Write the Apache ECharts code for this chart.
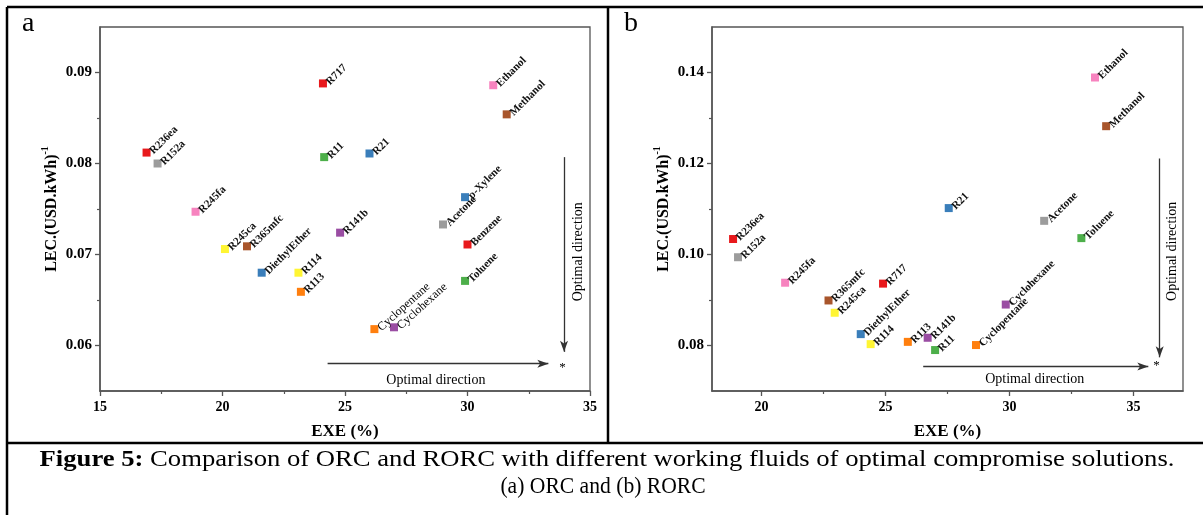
<!DOCTYPE html>
<html>
<head>
<meta charset="utf-8">
<script src="https://cdn.jsdelivr.net/npm/echarts@6/dist/echarts.min.js"></script>
<style>html,body{margin:0;padding:0;background:#fff}#c{width:1203px;height:515px}</style>
</head>
<body>
<div id="c"></div>
<script>
// ---- Data ----
// Panel a: ORC
const fluidsA = ['R236ea','R152a','R245fa','R245ca','R365mfc','DiethylEther','R114','R113','R141b','Cyclopentane','Cyclohexane','Acetone','Benzene','Toluene','p-Xylene','R717','R11','R21','Ethanol','Methanol'];
const exeA = [16.9, 17.35, 18.9, 20.1, 21.0, 21.6, 23.1, 23.2, 24.8, 26.2, 27.0, 29.0, 30.0, 29.9, 29.9, 24.1, 24.15, 26.0, 31.05, 31.6];
const lecA = [0.0812, 0.0800, 0.0747, 0.0706, 0.0709, 0.0680, 0.0680, 0.0659, 0.0724, 0.0618, 0.0620, 0.0733, 0.0711, 0.0671, 0.0763, 0.0888, 0.0807, 0.0811, 0.0886, 0.0854];
// Panel b: RORC
const fluidsB = ['R236ea','R152a','R245fa','R365mfc','R245ca','DiethylEther','R114','R717','R113','R141b','R11','Cyclopentane','Cyclohexane','R21','Acetone','Toluene','Ethanol','Methanol'];
const exeB = [18.85, 19.05, 20.95, 22.7, 22.95, 24.0, 24.4, 24.9, 25.9, 26.7, 27.0, 28.65, 29.85, 27.55, 31.4, 32.9, 33.45, 33.9];
const lecB = [0.1034, 0.0994, 0.0938, 0.0899, 0.0872, 0.0825, 0.0803, 0.0936, 0.0808, 0.0817, 0.0790, 0.0801, 0.0890, 0.1102, 0.1074, 0.1036, 0.1389, 0.1282];
// Tick labels
const xTicksA = [15, 20, 25, 30, 35];
const xMinorA = [17.5, 22.5, 27.5, 32.5];
const yTicksA = [0.06, 0.07, 0.08, 0.09];
const yMinorA = [0.065, 0.075, 0.085];
const xTicksB = [20, 25, 30, 35];
const xMinorB = [22.5, 27.5, 32.5];
const yTicksB = [0.08, 0.10, 0.12, 0.14];
const yMinorB = [0.09, 0.11, 0.13];

// ---- Styles ----
const colorOf = {
  'R236ea':'#E8191C','R152a':'#9C9C9C','R245fa':'#F783BF','R245ca':'#FFF533','R365mfc':'#A8552B',
  'DiethylEther':'#3A7EBA','R114':'#FFF533','R113':'#FF7F0E','R141b':'#9A4DA3','Cyclopentane':'#FF7F0E',
  'Cyclohexane':'#9A4DA3','Acetone':'#9C9C9C','Benzene':'#E8191C','Toluene':'#4DAF4A','p-Xylene':'#3A7EBA',
  'R717':'#E8191C','R11':'#4DAF4A','R21':'#3A7EBA','Ethanol':'#F783BF','Methanol':'#A8552B'
};
// label style overrides in panel a (these two labels are set in regular weight, slightly larger)
const labelOverrideA = {
  'Cyclopentane': { fontWeight:'normal', fontSize:12, rotate:42, color:'#000' },
  'Cyclohexane': { fontWeight:'normal', fontSize:12, rotate:42, color:'#000' }
};
const FF = '"Liberation Serif","Times New Roman",serif';
const axisCol = '#555';

function pts(names, xs, ys, overrides) {
  return names.map((n, i) => {
    const d = { name: n, value: [xs[i], ys[i]], itemStyle: { color: colorOf[n] } };
    if (overrides && overrides[n]) d.label = overrides[n];
    return d;
  });
}

function xAxes(gi, min, max, major, minor) {
  return [{
    type:'value', gridIndex: gi, min, max, position:'bottom',
    name:'EXE (%)', nameLocation:'middle', nameGap: 32,
    nameTextStyle:{ fontFamily: FF, fontWeight:'bold', fontSize:17, color:'#000' },
    axisLine:{ show:true, onZero:false, lineStyle:{ color: axisCol, width:1.5 } },
    axisTick:{ show:true, inside:false, length:5, customValues: major, lineStyle:{ color: axisCol, width:1.3 } },
    axisLabel:{ show:true, customValues: major, margin:9, fontFamily: FF, fontWeight:'bold', fontSize:14, color:'#000' },
    splitLine:{ show:false }
  },{
    type:'value', gridIndex: gi, min, max, position:'bottom', offset:0,
    axisLine:{ show:false, onZero:false },
    axisTick:{ show:true, inside:false, length:3, customValues: minor, lineStyle:{ color: axisCol, width:1.2 } },
    axisLabel:{ show:false }, splitLine:{ show:false }
  }];
}
function yAxes(gi, min, max, major, minor, gap) {
  return [{
    type:'value', gridIndex: gi, min, max, position:'left',
    name:'{m|LEC.(USD.kWh)}{s|-1}', nameLocation:'middle', nameGap: gap,
    nameTextStyle:{ fontFamily: FF, fontWeight:'bold', fontSize:16, color:'#000',
      rich:{ m:{ fontFamily: FF, fontWeight:'bold', fontSize:16, color:'#000', lineHeight:20, verticalAlign:'bottom' },
             s:{ fontFamily: FF, fontWeight:'bold', fontSize:10, color:'#000', lineHeight:20, verticalAlign:'top' } } },
    axisLine:{ show:true, onZero:false, lineStyle:{ color: axisCol, width:1.5 } },
    axisTick:{ show:true, inside:false, length:5, customValues: major, lineStyle:{ color: axisCol, width:1.3 } },
    axisLabel:{ show:true, customValues: major, margin:8, fontFamily: FF, fontWeight:'bold', fontSize:15, color:'#000',
      formatter: v => v.toFixed(2) },
    splitLine:{ show:false }
  },{
    type:'value', gridIndex: gi, min, max, position:'left', offset:0,
    axisLine:{ show:false, onZero:false },
    axisTick:{ show:true, inside:false, length:3, customValues: minor, lineStyle:{ color: axisCol, width:1.2 } },
    axisLabel:{ show:false }, splitLine:{ show:false }
  }];
}

function annot(hFrom, hTo, vFrom, vTo, star, hText, vText) {
  const ls = { color:'#333', width:1.3, type:'solid' };
  return {
    markLine: {
      silent:true, animation:false, symbol:['none','arrow'], symbolSize:[6,11],
      label:{ show:false }, lineStyle: ls,
      data: [ [ { coord: hFrom }, { coord: hTo } ], [ { coord: vFrom }, { coord: vTo } ] ]
    },
    markPoint: {
      silent:true, animation:false, symbol:'circle', symbolSize:0,
      data: [
        { coord: star, label:{ show:true, position:'inside', formatter:'*', fontFamily:FF, fontSize:13, color:'#000' } },
        { coord: hText, label:{ show:true, position:'inside', formatter:'Optimal direction', fontFamily:FF, fontSize:14, color:'#000' } },
        { coord: vText, label:{ show:true, position:'inside', rotate:90, formatter:'Optimal direction', fontFamily:FF, fontSize:14, color:'#000' } }
      ]
    }
  };
}

function scatter(gi, data, labelSize, an) {
  return Object.assign({
    type:'scatter', xAxisIndex: gi*2, yAxisIndex: gi*2, symbol:'rect', symbolSize:8,
    data,
    itemStyle:{ opacity:1 },
    label:{ show:true, position:'right', distance:1, rotate:45, formatter: p => p.name,
      fontFamily: FF, fontWeight:'bold', fontSize: labelSize, color:'#111' },
    labelLayout:{ hideOverlap:false },
    emphasis:{ disabled:true }, animation:false
  }, an);
}

const chart = echarts.init(document.getElementById('c'), null, { renderer:'canvas' });
const grids = [
  { left:100, top:27, width:490, height:364, show:true, borderColor: axisCol, borderWidth:1.3, backgroundColor:'transparent' },
  { left:712, top:27, width:471, height:364, show:true, borderColor: axisCol, borderWidth:1.3, backgroundColor:'transparent' }
];
const xa = xAxes(0, 15, 35, xTicksA, xMinorA).concat(xAxes(1, 18, 37, xTicksB, xMinorB));
const ya = yAxes(0, 0.055, 0.095, yTicksA, yMinorA, 40).concat(yAxes(1, 0.07, 0.15, yTicksB, yMinorB, 40));

const series = [
  scatter(0, pts(fluidsA, exeA, lecA, labelOverrideA), 11,
    annot([24.29, 0.0580], [33.3, 0.0580], [33.94, 0.0807], [33.94, 0.0593], [33.88, 0.0576], [28.71, 0.05615], [34.51, 0.0703])),
  scatter(1, pts(fluidsB, exeB, lecB), 11,
    annot([26.52, 0.0754], [35.6, 0.0754], [36.06, 0.1211], [36.06, 0.0774], [35.93, 0.0755], [31.02, 0.07246], [36.58, 0.1007]))
];

const frameW = 2.5;
const graphic = [
  { type:'line', shape:{ x1:7, y1:7, x2:1203, y2:7 }, style:{ stroke:'#000', lineWidth:frameW } },
  { type:'line', shape:{ x1:7, y1:7, x2:7, y2:515 }, style:{ stroke:'#000', lineWidth:frameW } },
  { type:'line', shape:{ x1:608, y1:7, x2:608, y2:443 }, style:{ stroke:'#000', lineWidth:frameW } },
  { type:'line', shape:{ x1:7, y1:443, x2:1203, y2:443 }, style:{ stroke:'#000', lineWidth:frameW } },
  { type:'text', left:22, top:10, style:{ text:'a', fontFamily:FF, fontSize:28, fill:'#000' } },
  { type:'text', left:624, top:10, style:{ text:'b', fontFamily:FF, fontSize:28, fill:'#000' } },
  { type:'text', x:607, y:460, scaleX:1.11, scaleY:1, style:{ text:'{b|Figure 5:}{r| Comparison of ORC and RORC with different working fluids of optimal compromise solutions.}',
      align:'center', verticalAlign:'middle',
      rich:{ b:{ fontFamily:FF, fontWeight:'bold', fontSize:24, fill:'#000' }, r:{ fontFamily:FF, fontSize:24, fill:'#000' } } } },
  { type:'text', x:603, y:487, scaleX:0.9, scaleY:1, style:{ text:'(a) ORC and (b) RORC', align:'center', verticalAlign:'middle',
      fontFamily:FF, fontSize:24, fill:'#000' } }
];

chart.setOption({
  animation:false,
  backgroundColor:'#fff',
  grid: grids,
  xAxis: xa,
  yAxis: ya,
  series,
  graphic
});
</script>
</body>
</html>
